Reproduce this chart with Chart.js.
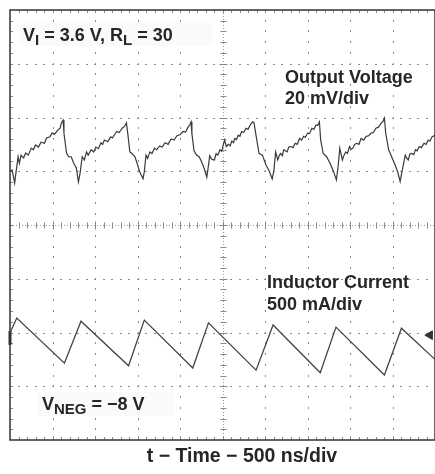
<!DOCTYPE html>
<html>
<head>
<meta charset="utf-8">
<script src="https://cdn.jsdelivr.net/npm/chart.js@4.4.1/dist/chart.umd.min.js"></script>
<style>
  html, body { margin: 0; padding: 0; background: #fff; overflow: hidden; }
  #wrap { width: 435px; height: 474px; overflow: hidden; }
</style>
</head>
<body>
<div id="wrap"><canvas id="scope" width="445" height="474"></canvas></div>
<script>
// scope screen is 10 x 8 divisions (500 ns/div horizontally)
// output voltage trace (divisions), one row per switching cycle
const voltTime = [
  0.00, 0.05, 0.11, 0.14, 0.19, 0.22, 0.26, 0.32, 0.37, 0.43, 0.50, 0.55, 0.60, 0.67, 0.73, 0.81, 0.86, 0.94, 0.99, 1.05, 1.12, 1.18, 1.21, 1.25,
  1.27, 1.33, 1.38, 1.44, 1.50, 1.56, 1.61, 1.65, 1.70, 1.75, 1.80, 1.84, 1.91, 1.97, 2.02, 2.08, 2.14, 2.18, 2.22, 2.30, 2.37, 2.41, 2.45, 2.51, 2.57, 2.64, 2.70, 2.74,
  2.77, 2.82, 2.88, 2.94, 2.99, 3.05, 3.13, 3.16, 3.20, 3.24, 3.29, 3.34, 3.40, 3.45, 3.52, 3.58, 3.65, 3.72, 3.79, 3.86, 3.93, 4.00, 4.07, 4.13, 4.19, 4.23, 4.26,
  4.28, 4.33, 4.39, 4.45, 4.51, 4.57, 4.63, 4.66, 4.70, 4.75, 4.81, 4.85, 4.89, 4.94, 4.98, 5.02, 5.05, 5.09, 5.14, 5.18, 5.22, 5.26, 5.29, 5.33, 5.37, 5.41, 5.45, 5.50, 5.55, 5.60, 5.65, 5.71, 5.74,
  5.78, 5.86, 5.94, 6.02, 6.09, 6.17, 6.21, 6.25, 6.30, 6.34, 6.37, 6.41, 6.44, 6.48, 6.52, 6.56, 6.61, 6.66, 6.71, 6.76, 6.81, 6.86, 6.91, 6.95, 7.00, 7.05, 7.10, 7.15, 7.20, 7.24, 7.28,
  7.31, 7.37, 7.45, 7.53, 7.60, 7.68, 7.72, 7.76, 7.82, 7.86, 7.90, 7.94, 7.99, 8.03, 8.07, 8.11, 8.16, 8.21, 8.26, 8.32, 8.38, 8.44, 8.50, 8.55, 8.61, 8.67, 8.73, 8.77, 8.81,
  8.84, 8.91, 8.98, 9.06, 9.12, 9.18, 9.23, 9.30, 9.33, 9.37, 9.41, 9.45, 9.50, 9.54, 9.58, 9.63, 9.68, 9.74, 9.79, 9.84, 9.88, 9.93, 10.00
];
const voltLevel = [
  4.99, 5.02, 4.78, 4.97, 5.27, 5.15, 5.30, 5.25, 5.34, 5.30, 5.43, 5.40, 5.49, 5.45, 5.54, 5.52, 5.62, 5.64, 5.71, 5.69, 5.76, 5.80, 5.90, 5.95,
  5.71, 5.34, 5.27, 5.27, 5.15, 5.06, 4.80, 4.97, 5.27, 5.21, 5.36, 5.30, 5.40, 5.36, 5.45, 5.42, 5.53, 5.50, 5.58, 5.55, 5.64, 5.62, 5.67, 5.74, 5.72, 5.80, 5.84, 5.90,
  5.71, 5.36, 5.32, 5.27, 5.15, 4.99, 4.86, 4.99, 5.30, 5.24, 5.36, 5.33, 5.43, 5.40, 5.47, 5.45, 5.53, 5.50, 5.60, 5.58, 5.66, 5.68, 5.74, 5.73, 5.82, 5.86, 5.92,
  5.70, 5.38, 5.30, 5.27, 5.17, 5.05, 4.89, 5.05, 5.29, 5.22, 5.21, 5.33, 5.30, 5.40, 5.37, 5.50, 5.58, 5.46, 5.50, 5.47, 5.56, 5.53, 5.61, 5.59, 5.67, 5.65, 5.74, 5.72, 5.80, 5.78, 5.86, 5.92, 5.91,
  5.71, 5.33, 5.30, 5.12, 5.02, 4.86, 5.02, 5.36, 5.21, 5.30, 5.33, 5.29, 5.40, 5.38, 5.36, 5.45, 5.46, 5.44, 5.52, 5.50, 5.61, 5.58, 5.65, 5.63, 5.71, 5.70, 5.80, 5.78, 5.86, 5.85, 5.92,
  5.58, 5.33, 5.27, 5.15, 5.02, 4.84, 5.09, 5.43, 5.21, 5.30, 5.36, 5.33, 5.46, 5.41, 5.43, 5.50, 5.52, 5.50, 5.61, 5.58, 5.65, 5.66, 5.71, 5.72, 5.80, 5.82, 5.89, 5.92, 5.99,
  5.71, 5.40, 5.27, 5.12, 4.99, 4.81, 5.02, 5.30, 5.25, 5.21, 5.32, 5.33, 5.31, 5.40, 5.38, 5.46, 5.44, 5.52, 5.50, 5.58, 5.56, 5.64, 5.67
];
// inductor current trace (triangle corners)
const currTime = [0.00, 0.16, 1.28, 1.67, 2.79, 3.16, 4.30, 4.67, 5.79, 6.19, 7.30, 7.67, 8.81, 9.21, 10.00];
const currLevel = [1.99, 2.27, 1.43, 2.21, 1.38, 2.23, 1.34, 2.18, 1.30, 2.14, 1.25, 2.10, 1.21, 2.08, 1.50];
// channel / trigger markers
const groundMarker = [{ x: 0, y: 1.9 }];
const triggerMarker = [{ x: 9.88, y: 1.95 }];

const FONT = '"Liberation Sans", Arial, Helvetica, sans-serif';

// dotted scope graticule with minor ticks on the centre lines and border
const graticule = {
  id: 'graticule',
  beforeDatasetsDraw(chart) {
    const { ctx, chartArea: a, scales: { x, y } } = chart;
    ctx.save();
    ctx.fillStyle = '#8c8c8c';
    for (let i = 1; i < 10; i++) {
      if (i === 5) continue;
      const px = Math.round(x.getPixelForValue(i));
      for (let k = 1; k < 40; k++) {
        ctx.fillRect(px, Math.round(y.getPixelForValue(k * 0.2)) - 1, 1, 2);
      }
    }
    for (let j = 1; j < 8; j++) {
      if (j === 4) continue;
      const py = Math.round(y.getPixelForValue(j));
      for (let k = 1; k < 50; k++) {
        ctx.fillRect(Math.round(x.getPixelForValue(k * 0.2)) - 1, py, 2, 1);
      }
    }
    // centre lines
    const cx = Math.round(x.getPixelForValue(5)) + 0.5;
    const cy = Math.round(y.getPixelForValue(4)) + 0.5;
    ctx.strokeStyle = '#999';
    ctx.lineWidth = 1;
    ctx.setLineDash([1, 2]);
    ctx.beginPath();
    ctx.moveTo(cx, a.top); ctx.lineTo(cx, a.bottom);
    ctx.moveTo(a.left, cy); ctx.lineTo(a.right, cy);
    ctx.stroke();
    ctx.setLineDash([]);
    ctx.strokeStyle = '#888';
    ctx.beginPath();
    for (let k = 1; k < 50; k++) {
      const px = Math.round(x.getPixelForValue(k * 0.2)) + 0.5;
      const len = k % 5 === 0 ? 4 : 3;
      ctx.moveTo(px, cy - len); ctx.lineTo(px, cy + len);
      ctx.moveTo(px, a.top); ctx.lineTo(px, a.top + 3);
      ctx.moveTo(px, a.bottom); ctx.lineTo(px, a.bottom - (k % 5 === 0 ? 4 : 3));
    }
    for (let k = 1; k < 40; k++) {
      const py = Math.round(y.getPixelForValue(k * 0.2)) + 0.5;
      const len = k % 5 === 0 ? 4 : 3;
      ctx.moveTo(cx - len, py); ctx.lineTo(cx + len, py);
      ctx.moveTo(a.left, py); ctx.lineTo(a.left + 3, py);
    }
    ctx.stroke();
    // border
    ctx.strokeStyle = '#333';
    ctx.lineWidth = 1.5;
    ctx.strokeRect(a.left, a.top, a.width, a.height);
    ctx.restore();
  }
};

function drawRich(ctx, x, y, parts) {
  for (const [txt, sub] of parts) {
    ctx.font = sub ? 'bold 15px ' + FONT : 'bold 18px ' + FONT;
    ctx.fillText(txt, x, sub ? y + 4 : y);
    x += ctx.measureText(txt).width;
  }
}

const labels = {
  id: 'labels',
  afterDatasetsDraw(chart) {
    const { ctx, chartArea: a } = chart;
    ctx.save();
    ctx.fillStyle = '#fafafa';
    ctx.fillRect(a.left + 10, 23, 192, 23);
    ctx.fillRect(a.left + 27, 392, 137, 24);
    ctx.fillStyle = '#262626';
    ctx.textBaseline = 'alphabetic';
    ctx.textAlign = 'left';
    drawRich(ctx, 23, 41, [['V', false], ['I', true], [' = 3.6 V, R', false], ['L', true], [' = 30', false]]);
    drawRich(ctx, 42, 410, [['V', false], ['NEG', true], [' = \u22128 V', false]]);
    ctx.font = 'bold 18px ' + FONT;
    ctx.fillText('Output Voltage', 285, 83);
    ctx.fillText('20 mV/div', 285, 104);
    ctx.fillText('Inductor Current', 267, 288);
    ctx.fillText('500 mA/div', 267, 310);
    ctx.font = 'bold 19.5px ' + FONT;
    ctx.textAlign = 'center';
    ctx.fillText('t \u2212 Time \u2212 500 ns/div', 242, 462);
    ctx.restore();
  }
};

new Chart(document.getElementById('scope'), {
  type: 'line',
  data: {
    datasets: [
      {
        label: 'Output Voltage',
        data: voltTime.map((t, i) => ({ x: t, y: voltLevel[i] })),
        borderColor: '#3a3a3a',
        borderWidth: 1.2,
        pointRadius: 0,
        tension: 0
      },
      {
        label: 'Inductor Current',
        data: currTime.map((t, i) => ({ x: t, y: currLevel[i] })),
        borderColor: '#444',
        borderWidth: 1.3,
        pointRadius: 0,
        tension: 0
      },
      {
        type: 'scatter',
        label: 'ground',
        data: groundMarker,
        pointStyle: 'line',
        rotation: 90,
        radius: 7,
        borderWidth: 3,
        borderColor: '#333'
      },
      {
        type: 'scatter',
        label: 'trigger',
        data: triggerMarker,
        pointStyle: 'triangle',
        rotation: -90,
        radius: 5,
        backgroundColor: '#333',
        borderColor: '#333',
        borderWidth: 1
      }
    ]
  },
  options: {
    responsive: false,
    animation: false,
    clip: false,
    layout: { padding: { left: 8, top: 10, right: 7, bottom: 34 } },
    scales: {
      x: { type: 'linear', min: 0, max: 10, display: false },
      y: { type: 'linear', min: 0, max: 8, display: false }
    },
    plugins: {
      legend: { display: false },
      tooltip: { enabled: false }
    }
  },
  plugins: [graticule, labels]
});
</script>
</body>
</html>
